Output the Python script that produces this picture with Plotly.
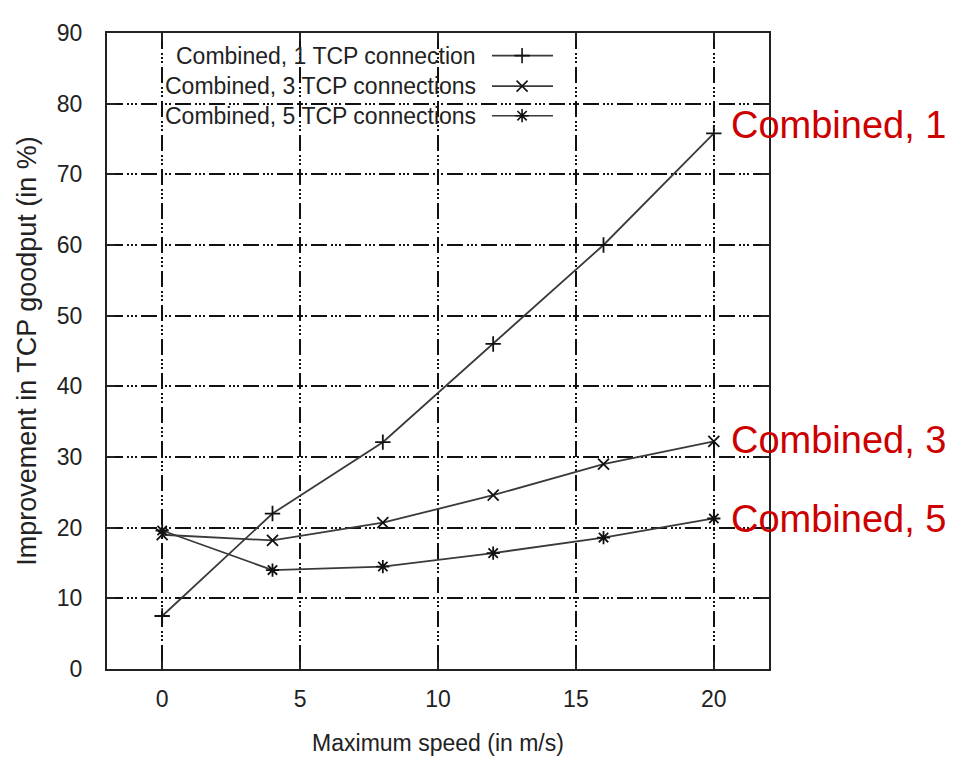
import plotly.graph_objects as go

speeds = [0, 4, 8, 12, 16, 20]
tcp1 = [7.5, 22.0, 32.1, 46.0, 60.0, 75.8]
tcp3 = [19.0, 18.2, 20.7, 24.6, 29.0, 32.2]
tcp5 = [19.6, 14.0, 14.5, 16.4, 18.6, 21.3]

names = ["Combined, 1 TCP connection", "Combined, 3 TCP connections", "Combined, 5 TCP connections"]
red_labels = ["Combined, 1", "Combined, 3", "Combined, 5"]
x_ticks = [0, 5, 10, 15, 20]
y_ticks = [0, 10, 20, 30, 40, 50, 60, 70, 80, 90]

FONT = "Liberation Sans, Arial, sans-serif"
series = [tcp1, tcp3, tcp5]
symbols = ["cross-thin", "x-thin", "asterisk-open"]
line_col = "#3a3a3a"

fig = go.Figure()
for s, sym, nm in zip(series, symbols, names):
    fig.add_trace(go.Scatter(
        x=speeds, y=s, mode="lines+markers", name=nm, showlegend=False,
        line=dict(color=line_col, width=1.8),
        marker=dict(symbol=sym, size=11, line=dict(color="#111", width=1.8), color="#111"),
    ))

# custom legend (text right, sample on right) using overlay axes in 0..1 units
leg_y = [0.9645, 0.9165, 0.870]
for nm, sym, ly in zip(names, symbols, leg_y):
    fig.add_trace(go.Scatter(
        x=[0.5816, 0.6737], y=[ly, ly], mode="lines", xaxis="x2", yaxis="y2",
        line=dict(color=line_col, width=1.6), showlegend=False, hoverinfo="skip"))
    fig.add_trace(go.Scatter(
        x=[0.627], y=[ly], mode="markers", xaxis="x2", yaxis="y2",
        marker=dict(symbol=sym, size=11, line=dict(color="#111", width=1.6), color="#111"),
        showlegend=False, hoverinfo="skip"))
    fig.add_annotation(x=0.560, y=ly, xref="paper", yref="paper", text=nm,
                       showarrow=False, xanchor="right", yanchor="middle",
                       font=dict(family=FONT, size=23, color="#222"))

for lab, s, dy in zip(red_labels, series, [8, 1, -1]):
    fig.add_annotation(x=0.940, y=s[-1], xref="paper", yref="y", text=lab,
                       showarrow=False, xanchor="left", yanchor="middle", yshift=dy,
                       font=dict(family=FONT, size=38, color="#cc0000"))

grid_dash = "16px,4px,2px,2px,2px,2px,2px,4px"
fig.update_layout(
    width=956, height=756,
    margin=dict(l=99, r=195, t=14, b=95),
    paper_bgcolor="white", plot_bgcolor="white",
    font=dict(family=FONT, size=23, color="#222"),
    xaxis=dict(range=[-2, 22], tickvals=x_ticks, showgrid=True, gridcolor="#111",
               gridwidth=1.6, griddash=grid_dash, zeroline=False,
               showline=True, linecolor="#222", linewidth=2, mirror="ticks",
               ticks="inside", ticklen=8, tickcolor="#222", tickwidth=1.5,
               tickfont=dict(size=23), ticklabelstandoff=8,
               title=dict(text="Maximum speed (in m/s)", font=dict(size=23), standoff=24)),
    yaxis=dict(range=[0, 90], tickvals=y_ticks, showgrid=True, gridcolor="#111",
               gridwidth=1.6, griddash=grid_dash, zeroline=False,
               showline=True, linecolor="#222", linewidth=2, mirror="ticks",
               ticks="inside", ticklen=8, tickcolor="#222", tickwidth=1.5,
               tickfont=dict(size=23), ticklabelstandoff=18,
               title=dict(text="Improvement in TCP goodput (in %)", font=dict(size=27), standoff=12)),
    xaxis2=dict(range=[0, 1], overlaying="x", visible=False, fixedrange=True),
    yaxis2=dict(range=[0, 1], overlaying="y", visible=False, fixedrange=True),
    showlegend=False,
)

fig.write_html("out.html")
